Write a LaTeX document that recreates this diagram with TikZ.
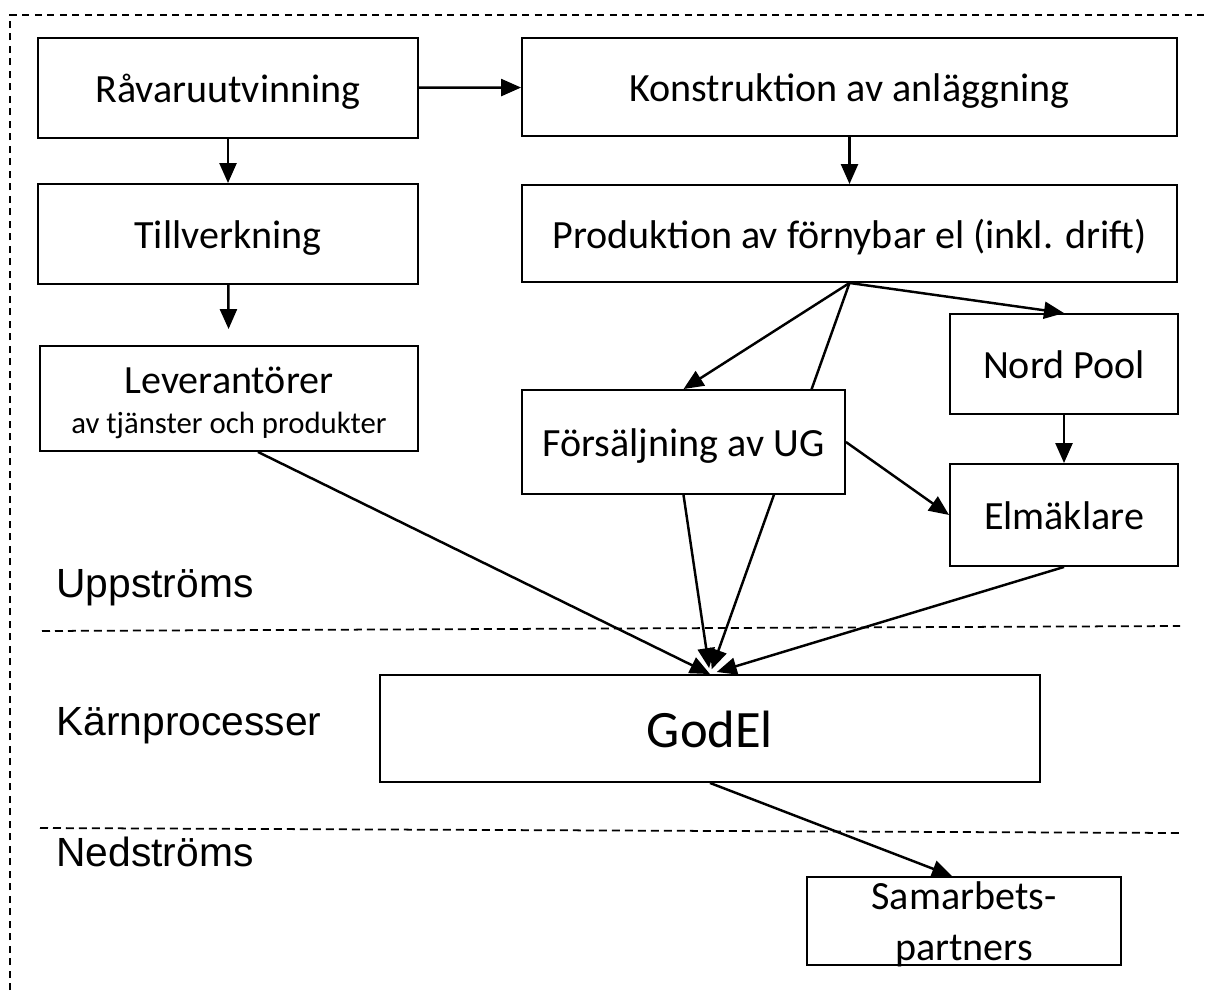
\documentclass[tikz,border=0pt]{standalone}
\usepackage{fontspec}
\setmainfont{Carlito}
\newfontfamily\zonefont{Liberation Sans}
\usetikzlibrary{arrows.meta,backgrounds}

\tikzset{
  box/.style={draw, line width=1.1pt, fill=white, inner sep=0pt, text height=21pt, text depth=4.2pt,
    font=\fontsize{22.8}{27}\selectfont},
  flow/.style={line width=1.4pt, -{Triangle[length=0.4cm,width=0.34cm]}},
  zone/.style={anchor=base west, inner sep=0pt, font=\zonefont\fontsize{23.2}{27}\selectfont},
  border/.style={line width=0.8pt, dash pattern=on 0.14cm off 0.11cm},
  divider/.style={line width=1pt, dash pattern=on 0.16cm off 0.1cm}
}

\begin{document}
\begin{tikzpicture}[x=0.02cm, y=-0.02cm]
\useasboundingbox (0,0) rectangle (1209,990);
\draw[border] (10,990) -- (10,15) -- (1209,15);

\node[box, minimum width=7.6cm, minimum height=2cm] (ravaru) at (228,88) {Råvaruutvinning};
\node[box, minimum width=7.6cm, minimum height=2cm] (tillv) at (228,234) {Tillverkning};
\node[box, minimum width=7.56cm, minimum height=2.1cm, text height=, text depth=, font=\fontsize{22.8}{22.8}\selectfont] (lev) at (229,398.5)
  {\raisebox{-9.4pt}[0pt][0pt]{\begin{tabular}{@{}c@{}}Leverantörer\\{\fontsize{17.5}{21}\selectfont av tjänster och produkter}\end{tabular}}};

\node[box, minimum width=13.1cm, minimum height=1.96cm] (konstr) at (849.5,87) {Konstruktion av anläggning};
\node[box, minimum width=13.1cm, minimum height=1.94cm] (prod) at (849.5,233.5) {Produktion av förnybar el (inkl. drift)};
\node[box, minimum width=4.56cm, minimum height=2cm] (nord) at (1064,364) {Nord Pool};
\node[box, minimum width=6.46cm, minimum height=2.08cm] (fors) at (683.5,442) {Försäljning av UG};
\node[box, minimum width=4.56cm, minimum height=2.04cm] (elm) at (1064,515) {Elmäklare};

\node[box, minimum width=13.2cm, minimum height=2.14cm, text height=22pt, text depth=0pt,
  font=\fontsize{29.9}{35}\selectfont] (godel) at (710,728.5) {GodEl};
\node[box, minimum width=6.28cm, minimum height=1.76cm, text height=, text depth=,
  font=\fontsize{22.8}{29}\selectfont] (samarb) at (964,921)
  {\raisebox{-7.4pt}[0pt][0pt]{\begin{tabular}{@{}c@{}}Samarbets-\\partners\end{tabular}}};

\node[zone] (upp) at (56,597) {Uppströms};
\node[zone] (karn) at (56,735) {Kärnprocesser};
\node[zone] (ned) at (56,866) {Nedströms};

\draw[divider] (42,631) -- (1180,626);
\draw[divider] (40,828) -- (1180,833);

\foreach \a/\b in {ravaru/konstr, ravaru/tillv, konstr/prod, nord/elm}
  \draw[flow] (\a) -- (\b);
\draw[flow, shorten >=0.32cm] (tillv) -- (lev);
\draw[flow] (prod.south) -- (nord.north);
\draw[flow] (prod.south) -- (fors.north);
\draw[flow] (fors.east) -- (elm.west);
\draw[flow] ([xshift=0.58cm]lev.south) -- (godel.north);
\draw[flow, shorten >=0.12cm] (fors.south) -- (godel.north);
\draw[flow, shorten >=0.14cm] (elm.south) -- (godel.north);
\draw[flow] (godel.south) -- ([xshift=-0.24cm]samarb.north);
\begin{scope}[on background layer]
\draw[flow, shorten >=0.1cm] (prod.south) -- (godel.north);
\end{scope}
\end{tikzpicture}
\end{document}
